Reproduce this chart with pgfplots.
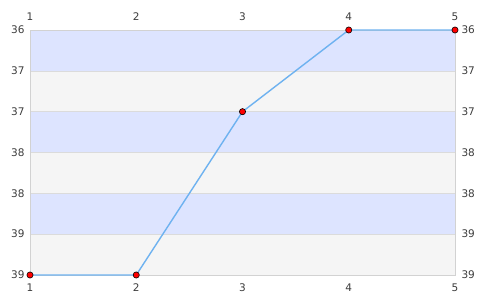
\documentclass[border=0pt]{standalone}
\usepackage{pgfplots}
\pgfplotsset{compat=1.18}
\usepackage{fontspec}
\setmainfont{DejaVu Sans}
\definecolor{bandblue}{RGB}{221,228,255}
\definecolor{bandgrey}{RGB}{245,245,245}
\definecolor{bordergrey}{RGB}{210,210,210}
\definecolor{linecol}{RGB}{110,178,240}
\definecolor{txt}{RGB}{60,60,60}
\begin{document}
\begin{tikzpicture}
\useasboundingbox (-30pt,-25pt) rectangle (455pt,275pt);
\begin{axis}[
  at={(0,0)}, anchor=south west,
  scale only axis, width=425pt, height=245pt,
  xmin=1, xmax=5, ymin=36, ymax=39, y dir=reverse,
  xtick={1,2,3,4,5},
  xticklabels={1,2,3,4,5},
  ytick={36,36.5,37,37.5,38,38.5,39},
  yticklabels={36,37,37,38,38,39,39},
  tick style={draw=none},
  axis line style={draw=none},
  ticklabel style={font=\fontsize{10.5}{12}\selectfont, text=txt},
  xticklabel style={yshift=-5pt},
  yticklabel style={xshift=-2pt},
  clip=false,
]
\fill[bandblue] (axis cs:1,36) rectangle (axis cs:5,36.5);
\fill[bandgrey] (axis cs:1,36.5) rectangle (axis cs:5,37);
\fill[bandblue] (axis cs:1,37) rectangle (axis cs:5,37.5);
\fill[bandgrey] (axis cs:1,37.5) rectangle (axis cs:5,38);
\fill[bandblue] (axis cs:1,38) rectangle (axis cs:5,38.5);
\fill[bandgrey] (axis cs:1,38.5) rectangle (axis cs:5,39);
\draw[bordergrey!80, line width=0.5pt] (axis cs:1,36.5) -- (axis cs:5,36.5)
  (axis cs:1,37) -- (axis cs:5,37) (axis cs:1,37.5) -- (axis cs:5,37.5)
  (axis cs:1,38) -- (axis cs:5,38) (axis cs:1,38.5) -- (axis cs:5,38.5);
\draw[bordergrey, line width=0.6pt] (rel axis cs:0,0) rectangle (rel axis cs:1,1);
\addplot[color=linecol, line width=1.4pt, mark=*, mark size=3.1pt,
  mark options={fill=red, draw=black, line width=0.6pt}]
  coordinates {(1,39) (2,39) (3,37) (4,36) (5,36)};
\end{axis}
\begin{axis}[
  at={(0,0)}, anchor=south west,
  scale only axis, width=425pt, height=245pt,
  xmin=1, xmax=5, ymin=36, ymax=39, y dir=reverse,
  xtick={1,2,3,4,5},
  xticklabels={1,2,3,4,5},
  ytick={36,36.5,37,37.5,38,38.5,39},
  yticklabels={36,37,37,38,38,39,39},
  xticklabel pos=upper, yticklabel pos=right,
  tick style={draw=none},
  axis line style={draw=none},
  ticklabel style={font=\fontsize{10.5}{12}\selectfont, text=txt},
  xticklabel style={yshift=6pt},
  yticklabel style={xshift=3pt},
]
\end{axis}
\end{tikzpicture}
\end{document}
